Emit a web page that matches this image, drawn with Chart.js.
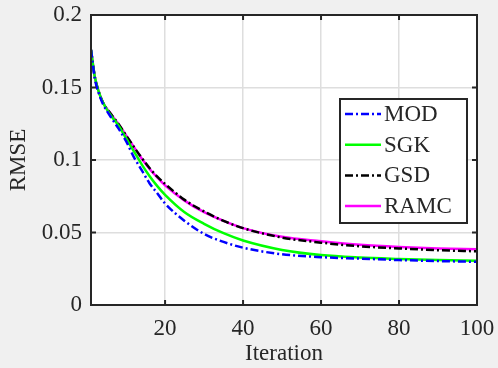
<!DOCTYPE html>
<html>
<head>
<meta charset="utf-8">
<script src="https://cdn.jsdelivr.net/npm/chart.js@4.4.1/dist/chart.umd.min.js"></script>
<style>
  html, body { margin: 0; padding: 0; background: #f0f0f0; }
  canvas { display: block; }
</style>
</head>
<body>
<canvas id="chart" width="498" height="368"></canvas>
<script>
// data
const iters = [1, 2, 3, 4, 6, 8, 10, 12, 14, 16, 18, 20, 25, 30, 35, 40, 50, 60, 70, 80, 90, 100];
const modRmse  = [0.176, 0.156, 0.146, 0.139, 0.130, 0.122, 0.113, 0.102, 0.093, 0.084, 0.077, 0.070, 0.058, 0.049, 0.0435, 0.0395, 0.035, 0.033, 0.032, 0.031, 0.0303, 0.0298];
const sgkRmse  = [0.176, 0.157, 0.147, 0.140, 0.131, 0.124, 0.115, 0.106, 0.097, 0.089, 0.082, 0.076, 0.064, 0.056, 0.0495, 0.0445, 0.038, 0.0345, 0.0328, 0.0318, 0.031, 0.0305];
const gsdRmse  = [0.176, 0.157, 0.147, 0.140, 0.132, 0.125, 0.117, 0.109, 0.1015, 0.0945, 0.0885, 0.0835, 0.0725, 0.0645, 0.058, 0.053, 0.0465, 0.043, 0.0405, 0.039, 0.0378, 0.037];
const ramcRmse = [0.176, 0.157, 0.147, 0.140, 0.132, 0.125, 0.117, 0.109, 0.101, 0.094, 0.088, 0.0825, 0.072, 0.064, 0.058, 0.053, 0.047, 0.044, 0.0415, 0.040, 0.039, 0.0385];
const xTicks = [20, 40, 60, 80, 100];
const yTicks = [0, 0.05, 0.1, 0.15, 0.2];

const FONT = "'Liberation Serif', 'Times New Roman', serif";
const INK = '#262626';

const pts = arr => arr.map((v, i) => ({ x: iters[i], y: v }));

// plot frame, inward ticks and legend inside the axes
const matlabLook = {
  id: 'matlabLook',
  beforeDraw(chart) {
    const { ctx, chartArea: a } = chart;
    ctx.save();
    ctx.fillStyle = '#f0f0f0';
    ctx.fillRect(0, 0, chart.width, chart.height);
    ctx.fillStyle = '#ffffff';
    ctx.fillRect(a.left, a.top, a.right - a.left, a.bottom - a.top);
    ctx.restore();
  },
  afterDatasetsDraw(chart) {
    const { ctx, chartArea: a, scales } = chart;
    ctx.save();
    ctx.strokeStyle = INK;
    ctx.lineWidth = 2;
    ctx.strokeRect(a.left, a.top, a.right - a.left, a.bottom - a.top);
    ctx.beginPath();
    const tl = 5;
    xTicks.forEach(v => {
      const px = scales.x.getPixelForValue(v);
      ctx.moveTo(px, a.bottom); ctx.lineTo(px, a.bottom - tl);
      ctx.moveTo(px, a.top); ctx.lineTo(px, a.top + tl);
    });
    yTicks.forEach(v => {
      const py = scales.y.getPixelForValue(v);
      ctx.moveTo(a.left, py); ctx.lineTo(a.left + tl, py);
      ctx.moveTo(a.right, py); ctx.lineTo(a.right - tl, py);
    });
    ctx.stroke();

    // legend box
    const bx = 340, by = 99, bw = 127, bh = 124;
    ctx.fillStyle = '#ffffff';
    ctx.fillRect(bx, by, bw, bh);
    ctx.lineWidth = 2;
    ctx.strokeStyle = INK;
    ctx.strokeRect(bx, by, bw, bh);
    ctx.font = '23px ' + FONT;
    ctx.textBaseline = 'middle';
    ctx.textAlign = 'left';
    chart.data.datasets.forEach((ds, i) => {
      const y = 114 + i * 30.7;
      ctx.beginPath();
      ctx.strokeStyle = ds.borderColor;
      ctx.lineWidth = 2.5;
      ctx.setLineDash(ds.borderDash || []);
      ctx.moveTo(345, y); ctx.lineTo(381, y);
      ctx.stroke();
      ctx.setLineDash([]);
      ctx.fillStyle = INK;
      ctx.fillText(ds.label, 384, y + 1);
    });
    ctx.restore();
  }
};

new Chart(document.getElementById('chart'), {
  type: 'line',
  data: {
    datasets: [
      { label: 'MOD', data: pts(modRmse), borderColor: '#0000ff', borderWidth: 2.5, borderDash: [8, 3, 2, 3] },
      { label: 'SGK', data: pts(sgkRmse), borderColor: '#00ff00', borderWidth: 2.5 },
      { label: 'GSD', data: pts(gsdRmse), borderColor: '#000000', borderWidth: 2.5, borderDash: [8, 3, 2, 3] },
      { label: 'RAMC', data: pts(ramcRmse), borderColor: '#ff00ff', borderWidth: 2.5 }
    ]
  },
  options: {
    responsive: false,
    animation: false,
    events: [],
    cubicInterpolationMode: 'monotone',
    elements: { point: { radius: 0 } },
    layout: { padding: { left: 0, right: 21, top: 15, bottom: 0 } },
    plugins: { legend: { display: false }, tooltip: { enabled: false } },
    scales: {
      x: {
        type: 'linear',
        min: 1,
        max: 100,
        afterFit: s => { s.height = 63; s.paddingLeft = 0; s.paddingRight = 0; },
        afterBuildTicks: s => { s.ticks = xTicks.map(v => ({ value: v })); },
        grid: { color: '#dedede', lineWidth: 1.5, drawTicks: false },
        border: { display: false },
        ticks: { color: INK, padding: 10, font: { family: FONT, size: 23 }, maxRotation: 0 },
        title: { display: true, text: 'Iteration', color: INK, font: { family: FONT, size: 23 }, padding: { top: 0, bottom: 0 } }
      },
      y: {
        min: 0,
        max: 0.2,
        afterFit: s => { s.width = 91; s.paddingTop = 0; s.paddingBottom = 0; },
        afterBuildTicks: s => { s.ticks = yTicks.map(v => ({ value: v })); },
        grid: { color: '#dedede', lineWidth: 1.5, drawTicks: false },
        border: { display: false },
        ticks: { color: INK, padding: 9, font: { family: FONT, size: 23 }, callback: v => String(+v.toFixed(2)) },
        title: { display: true, text: 'RMSE', color: INK, font: { family: FONT, size: 23 }, padding: { top: 5, bottom: 0 } }
      }
    }
  },
  plugins: [matlabLook]
});
</script>
</body>
</html>
